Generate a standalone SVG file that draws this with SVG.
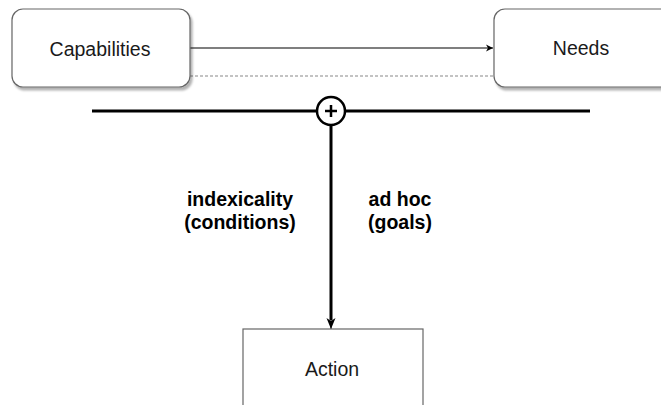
<svg xmlns="http://www.w3.org/2000/svg" width="661" height="405" viewBox="0 0 661 405">
  <defs>
    <marker id="arrow" markerWidth="10" markerHeight="10" refX="8" refY="5" orient="auto" markerUnits="userSpaceOnUse">
      <path d="M1,1.5 L8,5 L1,8.5 L3,5 Z" fill="#000"/>
    </marker>
    <marker id="arrowBig" markerWidth="14" markerHeight="12" refX="12" refY="6" orient="auto" markerUnits="userSpaceOnUse">
      <path d="M1,1.5 L12,6 L1,10.5 L4,6 Z" fill="#000"/>
    </marker>
    <filter id="shadow" x="-10%" y="-10%" width="130%" height="140%">
      <feDropShadow dx="2" dy="3" stdDeviation="1.2" flood-color="#000" flood-opacity="0.3"/>
    </filter>
    <style>
      .box { fill: #fff; stroke: #666; stroke-width: 1.2; }
      .lbl { font-family: "Liberation Sans", Arial, sans-serif; font-size: 19.5px; fill: #1a1a1a; text-anchor: middle; }
      .bold { font-family: "Liberation Sans", Arial, sans-serif; font-size: 19.5px; font-weight: bold; fill: #000; text-anchor: middle; }
    </style>
  </defs>
  <rect width="661" height="405" fill="#fff"/>

  <g id="connectors">
    <line x1="190" y1="48" x2="493" y2="48" stroke="#000" stroke-width="1.2" marker-end="url(#arrow)"/>
    <line x1="190" y1="76" x2="494" y2="76" stroke="#888" stroke-width="1.2" stroke-dasharray="3,2"/>
    <line x1="92" y1="111" x2="590" y2="111" stroke="#000" stroke-width="3"/>
    <line x1="331" y1="125" x2="331" y2="320" stroke="#000" stroke-width="3"/>
    <line x1="331" y1="318" x2="331" y2="329" stroke="#000" stroke-width="1" marker-end="url(#arrowBig)"/>
  </g>

  <g id="capabilities">
    <rect class="box" x="12" y="9" width="178" height="78" rx="11" filter="url(#shadow)"/>
    <text class="lbl" x="100" y="56">Capabilities</text>
  </g>

  <g id="needs">
    <rect class="box" x="494" y="9" width="180" height="78" rx="11" filter="url(#shadow)"/>
    <text class="lbl" x="581" y="55">Needs</text>
  </g>

  <g id="junction">
    <circle cx="331" cy="111" r="14" fill="#fff" stroke="#000" stroke-width="2.5"/>
    <path d="M325,111 H337 M331,105 V117" stroke="#000" stroke-width="2.5"/>
  </g>

  <g id="labels">
    <text class="bold" x="240" y="206">indexicality</text>
    <text class="bold" x="240" y="229">(conditions)</text>
    <text class="bold" x="400" y="206">ad hoc</text>
    <text class="bold" x="400" y="229">(goals)</text>
  </g>

  <g id="action">
    <rect class="box" x="243" y="329" width="180" height="90"/>
    <text class="lbl" x="332" y="376">Action</text>
  </g>
</svg>
